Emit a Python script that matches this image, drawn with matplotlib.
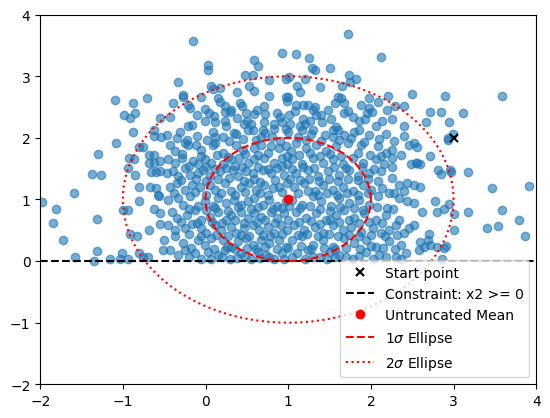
import numpy as np
import matplotlib
matplotlib.use("Agg")
import matplotlib.pyplot as plt

# mean / start point of the truncated normal
mean = [1.0, 1.0]
sigma = 1.0
start = [3.0, 2.0]

# samples outside the dense core
outer = [
    (-1.08, 1.91), (-1.30, 1.74), (-1.37, 1.41), (-1.27, 1.39), (-1.59, 1.10), (-1.98, 0.96),
    (-1.81, 0.84), (-1.84, 0.62), (-1.31, 0.69), (-1.72, 0.34), (-1.58, 0.07), (-1.31, 0.16),
    (-1.35, 0.00), (-1.15, 0.03), (-1.04, 0.03), (-0.94, 0.03), (-1.01, 0.13), (-1.00, 0.83),
    (-0.94, 0.83), (-0.91, 0.44), (-0.83, 0.41), (-0.81, 0.98), (-0.68, 0.51), (-0.55, 0.60),
    (-0.51, 0.18), (-0.80, 0.13), (-0.76, 0.06), (-0.70, 0.06), (-0.93, 1.68), (-0.86, 1.65),
    (-0.94, 1.51), (-0.85, 1.39), (-0.81, 1.21), (-0.80, 1.86), (-0.76, 1.86), (-0.68, 1.73),
    (-0.62, 1.73), (-0.68, 1.60), (-0.62, 1.60), (-0.55, 1.62), (-0.66, 1.45), (-0.60, 1.45),
    (-0.55, 1.47), (-0.67, 1.20), (-0.60, 1.18), (-0.56, 1.05), (-0.58, 1.08), (-0.62, 0.84),
    (-0.55, 0.78),
    (-1.09, 2.62), (-0.88, 2.57), (-0.71, 2.64), (-0.99, 2.37), (-0.92, 2.33), (-0.85, 2.41),
    (-0.55, 2.32), (-0.88, 2.10), (-0.62, 2.12), (-0.62, 2.03), (-0.54, 2.01),
    (-0.15, 3.57), (0.93, 3.37), (0.59, 3.26), (0.63, 3.16), (0.03, 3.18), (0.03, 3.10),
    (-0.33, 2.90), (0.48, 3.02), (0.57, 3.02), (0.77, 2.94), (0.97, 2.96), (0.07, 2.85),
    (0.09, 2.80), (0.17, 2.81), (0.52, 2.84), (0.58, 2.76), (0.38, 2.74), (-0.27, 2.69),
    (-0.27, 2.66), (-0.21, 2.53), (-0.19, 2.48), (-0.39, 2.56), (-0.43, 2.34), (-0.06, 2.66),
    (0.15, 2.64), (0.17, 2.59), (0.42, 2.57), (0.44, 2.52), (0.77, 2.68), (0.97, 2.66),
    (0.99, 2.60), (0.71, 2.52), (0.72, 2.38), (0.71, 2.26), (-0.01, 2.47), (0.23, 2.52),
    (0.23, 2.42), (0.31, 2.46), (0.29, 2.42), (0.86, 2.41), (0.49, 2.41), (0.58, 2.38),
    (0.10, 2.35), (0.12, 2.26), (0.23, 2.28), (0.25, 2.19), (0.34, 2.08), (0.37, 2.07),
    (-0.01, 2.27), (-0.17, 2.21), (-0.21, 2.19), (-0.31, 2.09), (0.50, 2.27), (0.55, 2.23),
    (0.46, 2.23), (0.57, 2.12), (0.51, 2.12), (0.83, 2.23), (0.93, 2.26), (0.83, 2.15),
    (0.97, 2.15), (0.69, 2.12), (0.72, 2.08), (0.67, 2.01), (-0.47, 2.04), (-0.23, 1.96),
    (0.09, 2.09), (0.11, 2.01),
    (1.72, 3.68), (1.09, 3.36), (1.25, 3.29), (2.12, 3.31), (1.29, 3.14), (1.32, 3.10),
    (1.50, 3.13), (1.01, 2.99), (1.20, 2.95), (1.11, 2.85), (1.14, 2.75), (1.39, 2.83),
    (1.73, 3.02), (1.82, 2.96), (1.75, 2.91), (1.65, 2.84), (1.00, 2.67), (1.60, 2.66),
    (1.64, 2.64), (1.56, 2.56), (1.68, 2.57), (1.10, 2.53), (1.18, 2.53), (1.24, 2.53),
    (1.32, 2.50), (1.30, 2.46), (1.98, 2.65), (2.08, 2.59), (2.21, 2.68), (2.50, 2.72),
    (1.88, 2.54), (1.98, 2.48), (2.01, 2.42), (1.95, 2.41), (2.20, 2.46), (2.29, 2.51),
    (2.40, 2.51), (1.68, 2.41), (1.72, 2.43), (1.40, 2.37), (1.34, 2.37), (1.86, 2.28),
    (1.93, 2.30), (2.14, 2.28), (2.40, 2.19), (1.18, 2.31), (1.20, 2.23), (1.14, 2.20),
    (1.17, 2.13), (1.41, 2.26), (1.58, 2.17), (1.60, 2.12), (1.54, 2.12), (1.80, 2.09),
    (1.86, 2.12), (1.98, 2.04), (2.18, 2.07), (1.68, 2.04), (1.45, 2.04), (1.54, 2.01),
    (1.01, 2.37), (1.02, 2.22), (1.00, 2.10), (1.30, 2.12), (1.28, 2.07),
    (2.90, 2.68), (3.59, 2.68), (2.71, 2.42), (2.85, 2.42), (3.12, 2.41), (2.67, 2.25),
    (2.95, 2.25), (2.99, 2.07), (2.93, 2.00),
    (2.93, 1.97), (2.52, 1.92), (2.56, 1.86), (2.72, 1.71), (2.54, 1.60), (2.60, 1.57),
    (2.56, 1.59), (2.81, 1.48), (2.85, 1.41), (2.96, 1.48), (2.97, 1.44), (3.18, 1.45),
    (3.46, 1.19), (3.91, 1.22), (2.52, 1.24), (2.60, 1.21), (2.52, 0.95), (2.77, 0.98),
    (2.94, 0.93), (2.89, 0.84), (3.00, 0.77), (2.80, 0.80), (2.62, 0.79), (3.18, 0.79),
    (3.59, 0.83), (3.79, 0.67), (3.41, 0.53), (3.54, 0.57), (3.87, 0.40), (3.00, 0.51),
    (2.52, 0.59), (2.70, 0.44), (2.60, 0.31), (2.71, 0.26), (2.69, 0.34), (2.64, 0.23),
    (2.80, 0.23), (2.89, 0.22), (2.91, 0.24), (2.58, 0.18), (2.86, 0.04),
]

# dense core, left half (x from -0.5 to 1)
core_left = [
    (-0.43, 1.89), (-0.37, 1.78), (-0.25, 1.92), (-0.21, 1.89), (-0.11, 1.89), (-0.05, 1.81),
    (0.09, 1.89), (0.11, 1.92), (0.21, 1.76), (0.37, 1.89), (0.45, 1.81), (0.59, 1.84),
    (0.67, 1.89), (0.79, 1.87), (0.89, 1.84), (0.97, 1.87), (1.03, 1.78),
    (-0.45, 1.65), (-0.37, 1.59), (-0.29, 1.68), (-0.15, 1.62), (-0.09, 1.57), (-0.01, 1.65),
    (0.07, 1.59), (0.21, 1.57), (0.31, 1.65), (0.41, 1.68), (0.51, 1.59), (0.59, 1.65),
    (0.71, 1.68), (0.83, 1.59), (0.93, 1.68), (0.99, 1.57),
    (-0.47, 1.43), (-0.39, 1.46), (-0.33, 1.38), (-0.25, 1.51), (-0.19, 1.40), (-0.09, 1.43),
    (-0.03, 1.48), (0.05, 1.38), (0.17, 1.46), (0.25, 1.51), (0.33, 1.48), (0.39, 1.38),
    (0.49, 1.46), (0.57, 1.43), (0.69, 1.48), (0.79, 1.43), (0.87, 1.51), (0.95, 1.40),
    (-0.43, 1.21), (-0.35, 1.27), (-0.25, 1.16), (-0.17, 1.24), (-0.07, 1.21), (0.05, 1.24),
    (0.11, 1.16), (0.23, 1.27), (0.31, 1.13), (0.43, 1.21), (0.53, 1.27), (0.61, 1.16),
    (0.71, 1.24), (0.81, 1.19), (0.89, 1.21), (0.99, 1.27),
    (-0.45, 0.99), (-0.33, 1.02), (-0.27, 0.91), (-0.19, 1.05), (-0.09, 0.89), (-0.01, 0.97),
    (0.09, 0.89), (0.15, 1.02), (0.25, 0.94), (0.35, 0.99), (0.43, 0.91), (0.51, 0.97),
    (0.59, 1.02), (0.69, 0.91), (0.77, 0.99), (0.87, 0.89), (0.97, 0.97),
    (-0.41, 0.80), (-0.35, 0.70), (-0.23, 0.75), (-0.13, 0.83), (-0.05, 0.67), (0.05, 0.72),
    (0.15, 0.80), (0.25, 0.67), (0.31, 0.75), (0.43, 0.80), (0.51, 0.70), (0.59, 0.78),
    (0.67, 0.72), (0.79, 0.80), (0.87, 0.70), (0.95, 0.78),
    (-0.45, 0.59), (-0.37, 0.51), (-0.25, 0.53), (-0.17, 0.61), (-0.05, 0.53), (0.01, 0.45),
    (0.11, 0.59), (0.19, 0.51), (0.31, 0.56), (0.37, 0.45), (0.47, 0.53), (0.57, 0.59),
    (0.65, 0.51), (0.75, 0.56), (0.83, 0.45), (0.91, 0.59), (0.99, 0.51),
    (-0.50, 0.34), (-0.37, 0.40), (-0.27, 0.29), (-0.09, 0.34), (-0.01, 0.26), (0.07, 0.37),
    (0.21, 0.34), (0.31, 0.23), (0.39, 0.32), (0.49, 0.37), (0.57, 0.26), (0.67, 0.34),
    (0.77, 0.29), (0.89, 0.34), (0.97, 0.23),
    (-0.43, 0.18), (-0.33, 0.10), (-0.25, 0.18), (-0.13, 0.13), (-0.05, 0.04), (0.03, 0.15),
    (0.15, 0.10), (0.23, 0.18), (0.29, 0.04), (0.43, 0.13), (0.55, 0.04), (0.63, 0.15),
    (0.73, 0.10), (0.83, 0.04), (0.93, 0.13),
]

# dense core, right half (x from 1 to 2.5)
core_right = [
    (1.09, 1.92), (1.21, 1.84), (1.34, 1.89), (1.46, 1.78), (1.58, 1.87), (1.72, 1.92),
    (1.88, 1.89), (2.08, 1.87), (2.18, 1.76), (2.26, 1.81), (2.36, 1.73), (2.46, 1.89),
    (1.05, 1.65), (1.17, 1.57), (1.30, 1.68), (1.42, 1.59), (1.54, 1.65), (1.66, 1.57),
    (1.78, 1.68), (1.90, 1.59), (2.06, 1.65), (2.16, 1.57), (2.26, 1.68), (2.48, 1.57),
    (1.09, 1.43), (1.24, 1.48), (1.36, 1.38), (1.48, 1.46), (1.62, 1.40), (1.74, 1.48),
    (1.84, 1.38), (1.98, 1.43), (2.12, 1.46), (2.34, 1.24), (2.44, 1.27),
    (1.07, 1.21), (1.19, 1.27), (1.32, 1.13), (1.42, 1.24), (1.54, 1.16), (1.66, 1.21),
    (1.78, 1.13), (1.90, 1.24), (2.00, 1.16), (2.14, 1.19), (2.22, 1.10),
    (1.05, 0.99), (1.17, 0.91), (1.30, 1.05), (1.40, 0.97), (1.52, 0.89), (1.62, 1.02),
    (1.74, 0.94), (1.86, 0.99), (1.98, 0.91), (2.20, 0.86), (2.34, 1.02), (2.44, 0.97),
    (1.09, 0.80), (1.21, 0.70), (1.34, 0.78), (1.46, 0.67), (1.58, 0.75), (1.68, 0.83),
    (1.80, 0.70), (1.92, 0.78), (2.06, 0.67), (2.18, 0.75), (2.30, 0.59), (2.40, 0.45),
    (1.07, 0.59), (1.19, 0.51), (1.32, 0.56), (1.42, 0.45), (1.54, 0.59), (1.66, 0.51),
    (1.76, 0.56), (1.88, 0.48), (2.02, 0.53), (2.12, 0.45), (2.22, 0.51), (2.46, 0.53),
    (1.05, 0.34), (1.17, 0.40), (1.30, 0.26), (1.42, 0.34), (1.54, 0.23), (1.68, 0.37),
    (1.80, 0.29), (1.94, 0.34), (2.06, 0.23), (2.22, 0.32), (2.36, 0.26),
    (1.11, 0.13), (1.24, 0.18), (1.38, 0.07), (1.50, 0.15), (1.62, 0.10), (1.78, 0.04),
    (1.94, 0.15), (2.10, 0.10), (2.30, 0.07), (2.42, 0.13),
]

# extra points filling the overlapping centre (estimated)
core_fill = [
    (-0.35, 1.99), (-0.10, 2.03), (0.02, 1.97), (0.21, 2.01), (0.28, 1.95), (0.45, 1.98),
    (0.61, 1.96), (0.80, 2.02), (0.90, 1.95), (1.12, 2.02), (1.22, 1.97), (1.40, 1.95),
    (1.62, 1.97), (1.76, 2.00), (1.92, 1.94), (2.10, 1.98), (2.28, 1.95), (2.40, 2.03),
    (-0.28, 1.74), (-0.05, 1.70), (0.14, 1.73), (0.27, 1.69), (0.48, 1.74), (0.64, 1.72),
    (0.76, 1.76), (0.98, 1.70), (1.13, 1.72), (1.26, 1.76), (1.38, 1.70), (1.51, 1.74),
    (1.64, 1.71), (1.84, 1.76), (1.99, 1.72), (2.12, 1.71),
    (-0.20, 1.55), (0.00, 1.53), (0.12, 1.50), (0.36, 1.55), (0.44, 1.52), (0.63, 1.53),
    (0.75, 1.50), (0.92, 1.55), (1.04, 1.50), (1.18, 1.53), (1.31, 1.51), (1.55, 1.53),
    (1.70, 1.51), (1.89, 1.53), (2.04, 1.50), (2.25, 1.53),
    (-0.30, 1.31), (-0.12, 1.33), (0.00, 1.30), (0.15, 1.33), (0.28, 1.35), (0.47, 1.30),
    (0.59, 1.33), (0.66, 1.29), (0.84, 1.32), (1.02, 1.34), (1.14, 1.31), (1.25, 1.34),
    (1.37, 1.30), (1.49, 1.33), (1.60, 1.30), (1.72, 1.34), (1.85, 1.31), (1.97, 1.33),
    (2.09, 1.30), (2.26, 1.35),
    (-0.38, 1.10), (-0.13, 1.12), (0.00, 1.08), (0.19, 1.11), (0.36, 1.08), (0.48, 1.12),
    (0.66, 1.10), (0.76, 1.07), (0.93, 1.12), (1.12, 1.10), (1.24, 1.13), (1.36, 1.08),
    (1.47, 1.11), (1.59, 1.08), (1.71, 1.10), (1.84, 1.07), (1.96, 1.11), (2.08, 1.06),
    (2.28, 1.10), (2.40, 1.14),
    (-0.20, 0.85), (0.00, 0.83), (0.12, 0.86), (0.27, 0.82), (0.39, 0.87), (0.55, 0.84),
    (0.64, 0.87), (0.82, 0.85), (0.93, 0.86), (1.01, 0.89), (1.14, 0.86), (1.26, 0.89),
    (1.38, 0.84), (1.50, 0.82), (1.63, 0.87), (1.79, 0.86), (1.91, 0.83), (2.07, 0.87),
    (2.27, 0.84),
    (-0.30, 0.64), (-0.10, 0.62), (0.08, 0.64), (0.20, 0.62), (0.36, 0.66), (0.46, 0.62),
    (0.62, 0.64), (0.72, 0.66), (0.84, 0.62), (1.00, 0.66), (1.13, 0.63), (1.27, 0.65),
    (1.39, 0.61), (1.51, 0.66), (1.62, 0.63), (1.73, 0.66), (1.86, 0.62), (1.98, 0.64),
    (2.14, 0.62), (2.34, 0.66),
    (-0.20, 0.44), (-0.05, 0.40), (0.13, 0.43), (0.27, 0.41), (0.43, 0.43), (0.53, 0.40),
    (0.69, 0.43), (0.78, 0.40), (0.92, 0.44), (1.12, 0.42), (1.23, 0.44), (1.36, 0.41),
    (1.49, 0.44), (1.60, 0.40), (1.74, 0.43), (1.86, 0.40), (2.00, 0.43), (2.17, 0.40),
    (2.31, 0.43),
    (-0.18, 0.22), (0.10, 0.20), (0.26, 0.23), (0.36, 0.20), (0.50, 0.22), (0.61, 0.19),
    (0.72, 0.23), (0.86, 0.20), (1.00, 0.21), (1.15, 0.24), (1.27, 0.20), (1.43, 0.22),
    (1.57, 0.19), (1.70, 0.22), (1.87, 0.20), (2.00, 0.24), (2.15, 0.21), (2.29, 0.19),
    (-0.20, 0.06), (0.07, 0.03), (0.20, 0.07), (0.38, 0.05), (0.48, 0.08), (0.66, 0.05),
    (0.77, 0.07), (0.95, 0.03), (1.04, 0.06), (1.20, 0.03), (1.30, 0.06), (1.47, 0.04),
    (1.56, 0.07), (1.70, 0.06), (1.86, 0.08), (2.02, 0.04), (2.18, 0.06), (2.36, 0.03),
    (-0.10, 2.37), (0.04, 2.40), (0.38, 2.33), (0.62, 2.45), (0.90, 2.34), (1.08, 2.44),
    (1.26, 2.28), (1.48, 2.45), (1.52, 2.30), (1.78, 2.34), (2.06, 2.20), (2.26, 2.30),
]

samples = outer + core_left + core_right + core_fill
x1 = [p[0] for p in samples]
x2 = [p[1] for p in samples]

fig, ax = plt.subplots(figsize=(6.4, 4.8), dpi=100)

ax.scatter(x1, x2, alpha=0.6)
ax.plot(start[0], start[1], 'kx', markersize=6, markeredgewidth=1.5, label='Start point')
ax.axhline(0, color='black', linestyle='--', label='Constraint: x2 >= 0')
ax.plot(mean[0], mean[1], 'ro', label='Untruncated Mean')

t = np.linspace(0, 2 * np.pi, 200)
ax.plot(mean[0] + sigma * np.cos(t), mean[1] + sigma * np.sin(t), 'r--', label=r'1$\sigma$ Ellipse')
ax.plot(mean[0] + 2 * sigma * np.cos(t), mean[1] + 2 * sigma * np.sin(t), 'r:', label=r'2$\sigma$ Ellipse')

ax.set_xlim(-2, 4)
ax.set_ylim(-2, 4)
ax.legend(loc='lower right')

plt.savefig('out.png', bbox_inches='tight')
